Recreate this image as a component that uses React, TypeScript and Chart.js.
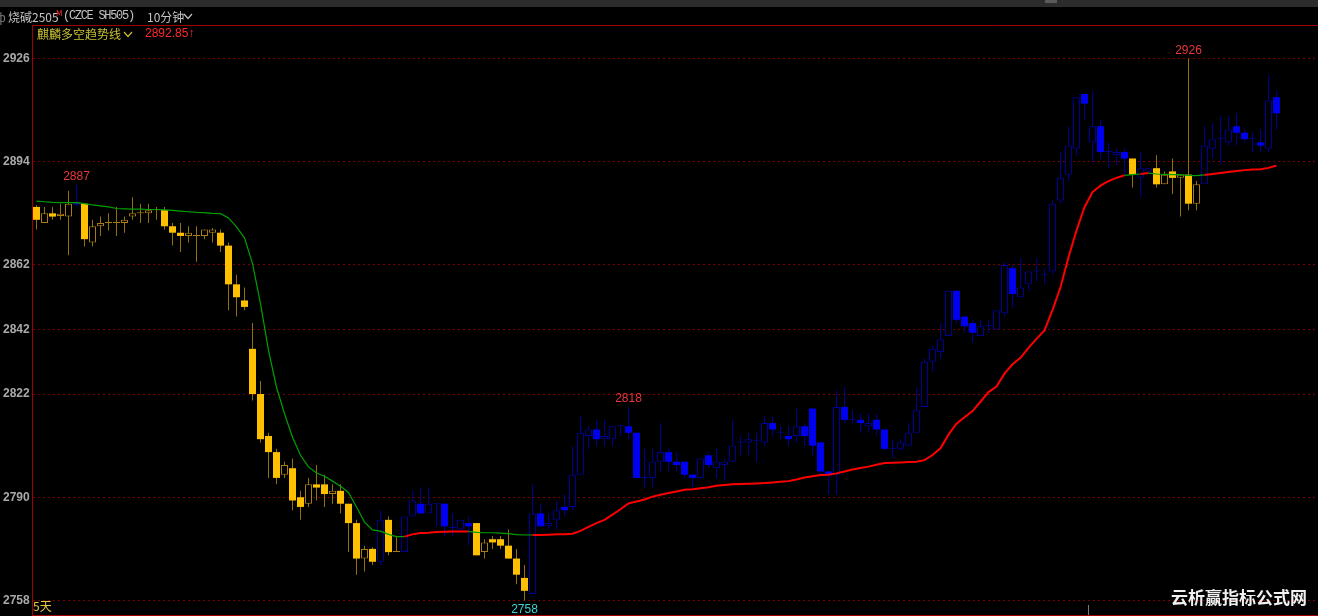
import React, { useEffect, useRef } from "react";
import { Chart, registerables } from "chart.js";

Chart.register(...registerables);

// 10-minute candles, 烧碱2505
const opens = [
  2880, 2875, 2878, 2877.2, 2877, 2880.5, 2881, 2869, 2874, 2875,
  2875, 2875, 2877, 2878, 2878, 2879, 2879, 2874, 2872, 2871,
  2871, 2871, 2872, 2872, 2868, 2856, 2851, 2836, 2822, 2809,
  2804, 2797, 2799, 2790, 2788, 2794, 2794, 2791, 2792, 2788,
  2782, 2771, 2774, 2770, 2783, 2773, 2773, 2784, 2788, 2785,
  2788, 2788, 2780.5, 2780, 2782, 2782, 2773, 2777, 2777, 2775,
  2771, 2765, 2760, 2785, 2781, 2783, 2787, 2787, 2797, 2809,
  2811, 2808, 2808, 2812, 2812, 2810, 2796, 2796, 2801, 2804,
  2801, 2801, 2797, 2796, 2803, 2799, 2800, 2801, 2807, 2807,
  2807.5, 2807, 2813, 2810, 2809, 2809, 2812, 2817.5, 2807, 2798,
  2797, 2818, 2814, 2814, 2812, 2814, 2811, 2805, 2805, 2806,
  2810, 2818, 2832, 2835, 2840, 2854, 2846, 2844, 2840, 2843,
  2842, 2847, 2861, 2852, 2856, 2860, 2859, 2860, 2882, 2890,
  2898, 2915, 2900, 2905, 2897, 2896, 2897, 2895, 2889, 2891,
  2892, 2887, 2891, 2889, 2890, 2881, 2887, 2898, 2901, 2900,
  2905, 2903, 2901, 2900, 2898, 2914,
];

const highs = [
  2880.5, 2880, 2880, 2881, 2885, 2887, 2881, 2876, 2877, 2878,
  2880, 2877, 2883, 2881, 2881, 2880, 2880, 2875, 2875, 2874,
  2874, 2873, 2873.5, 2873, 2869, 2859, 2855, 2844, 2826, 2810,
  2805, 2801, 2802, 2792, 2796, 2800, 2797, 2794, 2794, 2788,
  2783, 2775, 2774.5, 2786, 2784, 2778, 2784, 2792, 2793, 2793,
  2788, 2788, 2785, 2783, 2784, 2782, 2777, 2778, 2778, 2780,
  2774, 2769, 2794, 2788, 2785, 2789, 2791, 2806, 2815, 2812,
  2814, 2814, 2812, 2812, 2818, 2810, 2805, 2805, 2813, 2805,
  2804, 2801, 2797, 2802, 2804, 2805, 2802, 2814, 2809, 2810,
  2810, 2815, 2815, 2812, 2812, 2817.5, 2813, 2817.5, 2807, 2798,
  2823, 2824, 2817, 2816, 2816, 2816, 2811, 2808, 2808, 2813,
  2824, 2833, 2837, 2844, 2854, 2854, 2846, 2845, 2845, 2845,
  2848, 2863, 2862, 2864, 2860, 2864, 2861, 2882, 2897, 2905,
  2914, 2915, 2916, 2907, 2900, 2898, 2898, 2895, 2897, 2892,
  2896, 2891, 2895, 2890, 2926, 2888, 2905, 2906, 2908, 2908,
  2909, 2904, 2903, 2904, 2921, 2916,
];

const lows = [
  2873, 2875, 2876, 2876, 2865, 2880.3, 2867.7, 2867.7, 2871, 2872.7,
  2871, 2872, 2876, 2875, 2875, 2876, 2873, 2868, 2866, 2869,
  2863, 2870, 2869, 2866, 2848, 2846, 2848, 2820, 2807, 2796,
  2794, 2796, 2786, 2783, 2787, 2789, 2787, 2788, 2785, 2773,
  2766, 2767, 2769, 2769, 2772, 2773, 2773, 2784, 2785, 2785,
  2781, 2778, 2778, 2779.5, 2775, 2772, 2771, 2774, 2774, 2771,
  2763, 2758, 2760, 2781, 2780, 2780, 2784, 2786, 2797, 2805,
  2806, 2806, 2806, 2809, 2808, 2796, 2793, 2793, 2798, 2798,
  2798, 2796, 2793, 2796, 2799, 2796, 2795, 2801, 2803, 2803,
  2801, 2806, 2809, 2808, 2806, 2807, 2806, 2803, 2797, 2791,
  2791, 2813, 2813, 2810, 2810, 2809, 2804.5, 2802, 2804.5, 2806,
  2810, 2818, 2829, 2833, 2840, 2844, 2841, 2838, 2840, 2841,
  2842, 2846, 2849, 2852, 2854, 2857, 2856, 2859, 2881, 2888,
  2896, 2907, 2894, 2895, 2892, 2893, 2890, 2886, 2883, 2890.5,
  2886, 2887, 2884, 2877, 2879, 2879, 2887, 2895, 2893, 2899,
  2899, 2900, 2897, 2897, 2897, 2904,
];

const closes = [
  2876, 2878, 2877, 2877.9, 2881, 2881.2, 2870, 2874, 2875, 2875.2,
  2875, 2876, 2878, 2878, 2879, 2879, 2874, 2872, 2871, 2872,
  2871, 2873, 2873, 2868, 2856, 2852, 2849, 2822, 2808, 2804,
  2796, 2800, 2789, 2787, 2794, 2793, 2791, 2792, 2788, 2782,
  2771, 2774, 2770, 2783, 2773, 2773, 2784, 2789, 2785, 2788,
  2788, 2781, 2780.5, 2783, 2781, 2772, 2776, 2776, 2775, 2771,
  2766, 2761, 2785, 2781, 2782, 2786, 2786, 2797, 2810, 2811,
  2808, 2809, 2812, 2812, 2810, 2796, 2796, 2801, 2804, 2801,
  2800, 2797, 2796, 2802, 2800, 2801, 2801, 2806, 2807, 2808,
  2807.5, 2813, 2811, 2810, 2808, 2812, 2809, 2806, 2798, 2797,
  2818, 2814, 2814, 2813, 2813, 2811, 2805, 2805, 2807, 2810,
  2817, 2832, 2836, 2839, 2854, 2845, 2843, 2841, 2843, 2843,
  2848, 2862, 2853, 2855, 2860, 2860, 2859, 2881, 2889, 2899,
  2914, 2912, 2905, 2897, 2897, 2897, 2895, 2890, 2892, 2892,
  2887, 2890, 2889, 2890, 2881, 2887, 2899, 2901, 2901, 2904,
  2903, 2901, 2901, 2899, 2913, 2909,
];

// 麒麟多空趋势线 values, one per candle
const trendLine = [
  2881.8, 2881.6, 2881.4, 2881.3, 2881.3, 2881.3, 2881.0, 2880.6, 2880.3, 2880.0,
  2879.5, 2879.4, 2879.3, 2879.3, 2879.2, 2879.2, 2879.1, 2878.9, 2878.7, 2878.5,
  2878.3, 2878.2, 2878.0, 2877.9, 2876.6, 2873.8, 2870.4, 2862.4, 2850.0, 2835.5,
  2824.1, 2815.9, 2808.6, 2803.0, 2799.4, 2797.5, 2796.5, 2795.0, 2793.4, 2791.5,
  2787.0, 2782.3, 2779.9, 2779.5, 2778.5, 2777.8, 2777.8, 2778.5, 2778.9, 2779.0,
  2779.2, 2779.3, 2779.4, 2779.4, 2779.4, 2779.1, 2779.0, 2779.0, 2778.9, 2778.7,
  2778.4, 2778.3, 2778.3, 2778.3, 2778.4, 2778.5, 2778.5, 2778.7, 2779.6, 2780.8,
  2782.0, 2783.0, 2784.6, 2786.3, 2788.1, 2788.7, 2789.3, 2790.2, 2790.8, 2791.3,
  2791.8, 2792.3, 2792.5, 2792.8, 2793.1, 2793.6, 2793.8, 2794.0, 2794.1, 2794.2,
  2794.3, 2794.4, 2794.6, 2794.8, 2795.0, 2795.5, 2796.1, 2796.5, 2796.9, 2797.0,
  2797.4, 2798.0, 2798.6, 2799.1, 2799.5, 2800.1, 2800.6, 2800.7, 2800.8, 2800.9,
  2801.0, 2801.5, 2803.1, 2805.2, 2809.4, 2812.8, 2814.8, 2816.7, 2819.6, 2822.6,
  2824.3, 2828.3, 2831.2, 2833.2, 2836.3, 2839.1, 2841.7, 2848.0, 2855.1, 2864.4,
  2872.7, 2879.9, 2884.6, 2886.6, 2888.0, 2889.0, 2889.8, 2890.0, 2890.2, 2890.5,
  2890.2, 2890.1, 2890.0, 2890.0, 2889.8, 2889.7, 2889.9, 2890.2, 2890.5, 2890.8,
  2891.1, 2891.4, 2891.6, 2891.7, 2892.1, 2892.85,
];

// trend state per candle: u = 多 (blue candles, red line), d = 空 (yellow candles, green line)
const trendFlags = (
  "dddddudddd" + "dddddddddd" + "dddddddddd" + "dddddddddd" +
  "dddudduuuu" + "uuuuuddddd" + "dduuuuuuuu" + "uuuuuuuuuu" +
  "uuuuuuuuuu" + "uuuuuuuuuu" + "uuuuuuuuuu" + "uuuuuuuuuu" +
  "uuuuuuuuuu" + "uuuuuuuduu" + "dddddduuuu" + "uuuuuu"
).split("");

const yTicks = [2758, 2790, 2822, 2842, 2862, 2894, 2926];
const highMarks = [5, 74, 144];
const lowMarks = [61];
const lastValueText = "2892.85";

const Y_MIN = 2753.196;
const Y_MAX = 2936.384;
const X_MIN = -0.5625;
const X_MAX = 160.1875;

const WIDTH = 1318;
const HEIGHT = 616;

const COLORS = {
  bg: "#000000",
  frame: "#a00000",
  grid: "#7a0000",
  axisText: "#a9a9a9",
  upFill: "#0000f0",
  upHollow: "#000098",
  upWick: "#000090",
  dnFill: "#ffc000",
  dnHollow: "#a87c10",
  dnWick: "#94700c",
  lineUp: "#ff0000",
  lineDn: "#00a000",
  markHigh: "#e8383d",
  markLow: "#3cd6d6",
};

const chartDecor = {
  id: "chartDecor",
  beforeDatasetsDraw(chart: any) {
    const { ctx, chartArea: a, scales } = chart;
    const y = scales.y;
    ctx.save();
    ctx.lineWidth = 1;
    ctx.strokeStyle = COLORS.grid;
    ctx.setLineDash([2, 3]);
    for (const v of yTicks) {
      const py = Math.floor(y.getPixelForValue(v)) + 0.5;
      ctx.beginPath();
      ctx.moveTo(a.left + 1, py);
      ctx.lineTo(a.right, py);
      ctx.stroke();
    }
    ctx.restore();
  },
  afterDatasetsDraw(chart: any) {
    const { ctx, chartArea: a, scales } = chart;
    const x = scales.x;
    const y = scales.y;
    ctx.save();
    // frame
    ctx.strokeStyle = COLORS.frame;
    ctx.lineWidth = 1;
    ctx.setLineDash([]);
    ctx.beginPath();
    ctx.moveTo(a.left + 0.5, a.top);
    ctx.lineTo(a.left + 0.5, a.bottom);
    ctx.moveTo(a.left, a.top + 0.5);
    ctx.lineTo(a.right, a.top + 0.5);
    ctx.moveTo(a.left, a.bottom - 0.5);
    ctx.lineTo(a.right, a.bottom - 0.5);
    ctx.stroke();

    // extreme value marks
    ctx.font = "12px 'Liberation Sans', Arial, sans-serif";
    ctx.textAlign = "center";
    for (const i of highMarks) {
      ctx.fillStyle = COLORS.markHigh;
      ctx.textBaseline = "bottom";
      ctx.fillText(String(highs[i]), x.getPixelForValue(i), y.getPixelForValue(highs[i]) - 2);
    }
    for (const i of lowMarks) {
      ctx.fillStyle = COLORS.markLow;
      ctx.textBaseline = "top";
      ctx.fillText(String(lows[i]), x.getPixelForValue(i), y.getPixelForValue(lows[i]) + 3);
    }
    ctx.restore();
  },
};

function Chevron({ color, left, top }: { color: string; left: number; top: number }) {
  return (
    <svg
      width={10}
      height={7}
      style={{ position: "absolute", left, top }}
      viewBox="0 0 10 7"
    >
      <polyline points="1,1 5,5.5 9,1" fill="none" stroke={color} strokeWidth={1.2} />
    </svg>
  );
}

export default function App() {
  const canvasRef = useRef<HTMLCanvasElement>(null);

  useEffect(() => {
    const canvas = canvasRef.current;
    if (!canvas) return;
    const idx = opens.map((_, i) => i);
    const isUpTrend = (i: number) => trendFlags[i] === "u";
    const rising = (i: number) => closes[i] >= opens[i];

    const wickData = idx.map((i) => ({ x: i, y: [lows[i], highs[i]] }));
    const bodyData = idx.map((i) => ({
      x: i,
      y: [Math.min(opens[i], closes[i]), Math.max(opens[i], closes[i])],
    }));
    const lineData = idx.map((i) => ({ x: i, y: trendLine[i] }));

    const wickColors = idx.map((i) => (isUpTrend(i) ? COLORS.upWick : COLORS.dnWick));
    const bodyFill = idx.map((i) =>
      rising(i) ? COLORS.bg : isUpTrend(i) ? COLORS.upFill : COLORS.dnFill
    );
    const bodyBorder = idx.map((i) =>
      isUpTrend(i)
        ? rising(i) ? COLORS.upHollow : COLORS.upFill
        : rising(i) ? COLORS.dnHollow : COLORS.dnFill
    );
    const bodyBorderWidth = idx.map((i) => (rising(i) ? 1 : 0));

    const bothUp = (c: any) =>
      trendFlags[c.p0DataIndex] === "u" && trendFlags[c.p1DataIndex] === "u";

    const chart = new Chart(canvas, {
      type: "bar",
      data: {
        datasets: [
          {
            type: "line",
            label: "trend",
            data: lineData,
            order: 0,
            pointRadius: 0,
            borderWidth: 1.6,
            tension: 0,
            borderColor: COLORS.lineDn,
            segment: {
              borderColor: (c: any) => (bothUp(c) ? COLORS.lineUp : COLORS.lineDn),
              borderWidth: (c: any) => (bothUp(c) ? 2 : 1.2),
            },
          } as any,
          {
            type: "bar",
            label: "body",
            data: bodyData,
            order: 1,
            grouped: false,
            barThickness: 7,
            minBarLength: 1,
            inflateAmount: 0,
            borderSkipped: false,
            backgroundColor: bodyFill,
            borderColor: bodyBorder,
            borderWidth: bodyBorderWidth,
          } as any,
          {
            type: "bar",
            label: "wick",
            data: wickData,
            order: 2,
            grouped: false,
            barThickness: 1,
            minBarLength: 1,
            inflateAmount: 0,
            borderWidth: 0,
            backgroundColor: wickColors,
          } as any,
        ],
      },
      options: {
        animation: false,
        responsive: false,
        maintainAspectRatio: false,
        devicePixelRatio: 1,
        events: [],
        layout: { padding: { left: 3, top: 25, right: 0, bottom: 0 } },
        plugins: {
          legend: { display: false },
          tooltip: { enabled: false },
        },
        scales: {
          x: {
            type: "linear",
            display: false,
            min: X_MIN,
            max: X_MAX,
            offset: false,
          },
          y: {
            type: "linear",
            position: "left",
            min: Y_MIN,
            max: Y_MAX,
            afterBuildTicks: (s: any) => {
              s.ticks = yTicks.map((v) => ({ value: v }));
            },
            afterFit: (s: any) => {
              // fixed axis column; tick labels sit well inside the plot height
              s.width = 29;
              s.paddingTop = 0;
              s.paddingBottom = 0;
            },
            grid: { display: false, drawTicks: false },
            border: { display: false },
            ticks: {
              crossAlign: "far",
              padding: 0,
              autoSkip: false,
              color: COLORS.axisText,
              font: { family: "'Liberation Sans', Arial, sans-serif", size: 12, weight: "bold" },
              callback: (v: any) => String(v),
            },
          },
        },
      } as any,
      plugins: [chartDecor],
    });

    return () => chart.destroy();
  }, []);

  const cjk = "'Noto Sans CJK SC', 'Noto Sans', sans-serif";

  return (
    <div
      style={{
        position: "fixed",
        left: 0,
        top: 0,
        width: WIDTH,
        height: HEIGHT,
        background: "#000",
        overflow: "hidden",
      }}
    >
      <canvas
        ref={canvasRef}
        width={WIDTH}
        height={HEIGHT}
        style={{ position: "absolute", left: 0, top: 0, width: WIDTH, height: HEIGHT, display: "block" }}
      />

      {/* window strip */}
      <div style={{ position: "absolute", left: 0, top: 0, width: WIDTH, height: 7, background: "#2c2c2c" }} />
      <div style={{ position: "absolute", left: 1045, top: 0, width: 12, height: 3, background: "#5a5a5a" }} />

      {/* contract header */}
      <div
        style={{
          position: "absolute",
          left: 0,
          top: 8,
          height: 17,
          lineHeight: "17px",
          whiteSpace: "nowrap",
          color: "#c4c4c4",
          fontSize: 12,
          fontFamily: cjk,
        }}
      >
        <span style={{ position: "absolute", left: -4, color: "#7a7a7a" }}>ф</span>
        <span style={{ position: "absolute", left: 8 }}>烧碱2505</span>
        <span style={{ position: "absolute", left: 56, top: -4, fontSize: 8, color: "#ff3030" }}>M</span>
        <span
          style={{
            position: "absolute",
            left: 63,
            fontFamily: "'Liberation Mono', 'DejaVu Sans Mono', monospace",
            fontSize: 12,
            letterSpacing: "-1.3px",
          }}
        >
          (CZCE SH505)
        </span>
        <span style={{ position: "absolute", left: 147 }}>10分钟</span>
      </div>
      <Chevron color="#c4c4c4" left={183} top={13} />

      {/* indicator legend */}
      <div
        style={{
          position: "absolute",
          left: 37,
          top: 25,
          height: 17,
          lineHeight: "17px",
          whiteSpace: "nowrap",
          fontSize: 12,
          fontFamily: cjk,
          color: "#c8c032",
        }}
      >
        麒麟多空趋势线
      </div>
      <Chevron color="#c8c032" left={123} top={31} />
      <div
        style={{
          position: "absolute",
          left: 145,
          top: 25,
          height: 17,
          lineHeight: "17px",
          whiteSpace: "nowrap",
          fontSize: 12,
          fontFamily: "'Liberation Sans', Arial, sans-serif",
          color: "#ff2828",
        }}
      >
        {lastValueText}↑
      </div>

      {/* bottom strip */}
      <div
        style={{
          position: "absolute",
          left: 33,
          top: 598,
          lineHeight: "16px",
          fontSize: 12,
          fontFamily: cjk,
          color: "#e8c848",
        }}
      >
        5天
      </div>
      <div style={{ position: "absolute", left: 1088, top: 605, width: 1, height: 10, background: "#7a7a7a" }} />
      <div
        style={{
          position: "absolute",
          left: 1171,
          top: 586,
          lineHeight: "22px",
          fontSize: 17,
          fontWeight: 700,
          fontFamily: cjk,
          color: "#f0f0f0",
          whiteSpace: "nowrap",
        }}
      >
        云析赢指标公式网
      </div>
    </div>
  );
}
